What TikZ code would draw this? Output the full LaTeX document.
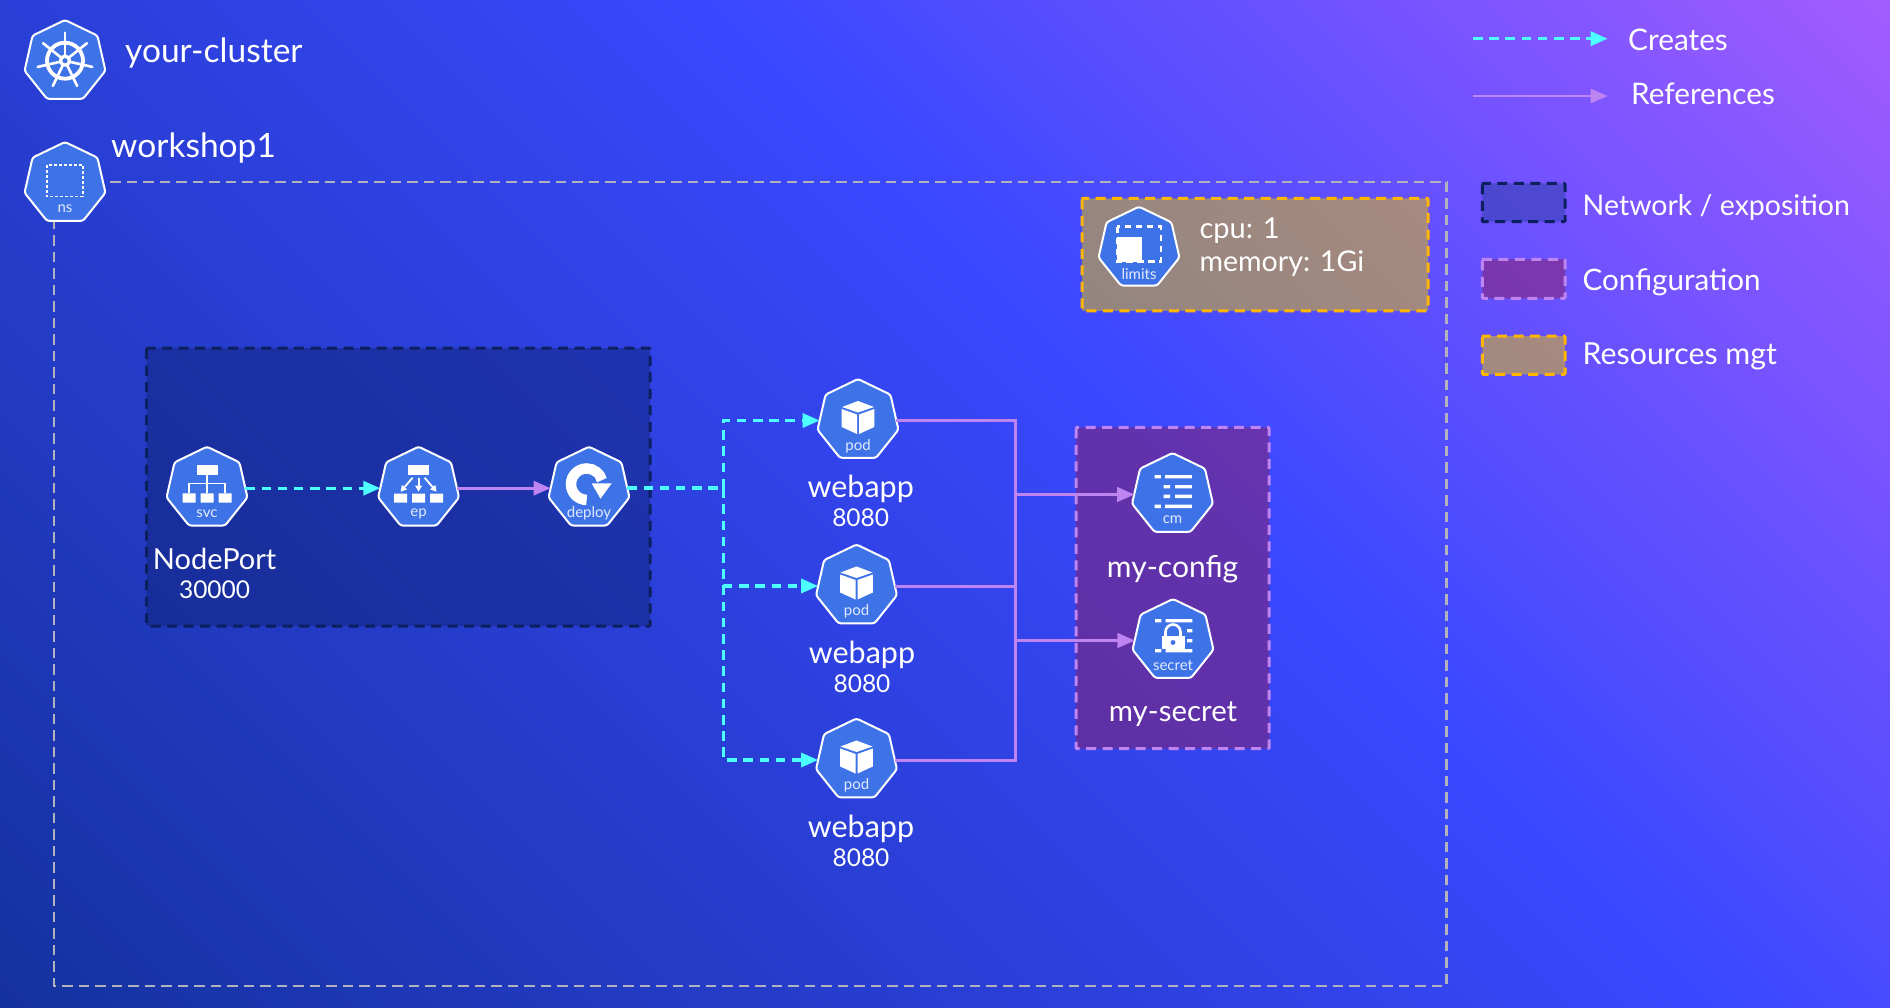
\documentclass[tikz,border=0pt]{standalone}
\usepackage{fontspec}
\setmainfont{Lato}
\usetikzlibrary{arrows.meta,shapes.geometric,calc}
\definecolor{bgA}{RGB}{20,50,158}
\definecolor{bgB}{RGB}{58,72,255}
\definecolor{bgC}{RGB}{162,92,255}
\definecolor{kubeblue}{RGB}{62,115,232}
\definecolor{cyanline}{RGB}{77,255,255}
\definecolor{refline}{RGB}{190,133,242}
\definecolor{nsline}{RGB}{178,178,190}
\definecolor{netline}{RGB}{12,32,96}
\definecolor{netfill}{RGB}{16,36,120}
\definecolor{netswatch}{RGB}{45,62,165}
\definecolor{cfgfill}{RGB}{140,30,95}
\definecolor{resline}{RGB}{255,182,0}
\definecolor{resfill}{RGB}{232,195,0}
\pgfdeclarehorizontalshading{bgshade}{100bp}{color(0bp)=(bgA); color(25bp)=(bgA); color(55bp)=(bgB); color(75bp)=(bgC); color(100bp)=(bgC)}
\newcommand{\fs}[1]{\fontsize{#1}{#1}\selectfont}
\tikzset{
  kube/.style={regular polygon,regular polygon sides=7,minimum size=83pt,inner sep=0pt,outer sep=0pt,
    draw=white,line width=2pt,fill=kubeblue,rounded corners=2.5pt},
  kubelbl/.style={text=white,text opacity=.85,inner sep=0pt,font=\fs{15}},
  bigtxt/.style={text=white,inner sep=0pt,font=\fs{30}},
  midtxt/.style={text=white,inner sep=0pt,font=\fs{24.5}},
  lefttxt/.style={bigtxt,anchor=west},
  creates/.style={draw=cyanline,line width=3.2pt,dash pattern=on 9.5pt off 6.7pt,-{Triangle[length=17pt,width=14pt]}},
  refs/.style={draw=refline,line width=3pt,-{Triangle[length=17pt,width=14pt]}},
  nsborder/.style={draw=nsline,line width=2.8pt,dash pattern=on 10.5pt off 6pt},
  netbox/.style={fill=netfill,fill opacity=.5,draw=netline,draw opacity=1,line width=3pt,dash pattern=on 10pt off 6.5pt,rounded corners=1pt},
  netkey/.style={netbox,fill=netswatch},
  cfgbox/.style={fill=cfgfill,fill opacity=.5,draw=refline,draw opacity=1,line width=3pt,dash pattern=on 10pt off 6.5pt,rounded corners=1pt},
  resbox/.style={fill=resfill,fill opacity=.5,draw=resline,draw opacity=1,line width=3pt,dash pattern=on 10pt off 6.5pt,rounded corners=1pt},
  wheelicon/.pic={
    \draw[white,line width=3.8pt] (0,40.7) circle[radius=18pt];
    \foreach \a in {90,141.43,192.86,244.29,295.71,347.14,398.57}{
      \draw[white,line width=2.6pt,line cap=round] (0,40.7) -- ++(\a:28pt);}
    \fill[white] (0,40.7) circle[radius=6pt];
    \fill[kubeblue] (0,40.7) circle[radius=2.6pt];
  },
  nsicon/.pic={\draw[white,line width=1.6pt,dash pattern=on 3pt off 2pt] (-18,23) rectangle (17.7,54.7);},
  limitsicon/.pic={
    \draw[white,line width=2.4pt,dash pattern=on 6.5pt off 4.5pt] (-21.7,20) rectangle (21.7,55);
    \fill[white] (-22.3,30) rectangle (3.3,55.6);
  },
  svcicon/.pic={
    \fill[white] (-10.5,18.7) rectangle (10.5,28);
    \draw[white,line width=1.6pt] (0,28) -- (0,46.7) (-18,46.7) -- (-18,36.7) -- (18,36.7) -- (18,46.7);
    \fill[white] (-24.5,46.7) rectangle (-11.5,56) (-6.5,46.7) rectangle (6.5,56) (11.5,46.7) rectangle (24.5,56);
  },
  epicon/.pic={
    \fill[white] (-10.5,18.7) rectangle (10.5,28);
    \fill[white] (-24.5,47) rectangle (-11.5,56) (-6.5,47) rectangle (6.5,56) (11.5,47) rectangle (24.5,56);
    \draw[white,line width=1.8pt,-{Triangle[length=6pt,width=6.5pt]}] (0,31) -- (0,45);
    \draw[white,line width=1.8pt,-{Triangle[length=6pt,width=6.5pt]}] (-6,31) -- (-18,45);
    \draw[white,line width=1.8pt,-{Triangle[length=6pt,width=6.5pt]}] (6,31) -- (18,45);
  },
  deployicon/.pic={
    \draw[white,line width=10.5pt] (-2.3,53.2) arc[start angle=270,end angle=15,radius=15.7pt];
    \fill[kubeblue] (0,30) rectangle (6,37);
    \draw[kubeblue,line width=2pt] (0.7,35.7) -- (11.5,53) -- (24.6,35.7);
    \fill[white] (2.7,36.7) -- (22.6,36.7) -- (11.5,52) -- cycle;
  },
  podicon/.pic={
    \fill[white] (0,22) -- (16,28) -- (0,33.5) -- (-16,28) -- cycle;
    \fill[white] (-16.3,30) -- (-1,35.5) -- (-1,55) -- (-16.3,48) -- cycle;
    \fill[white] (16.3,30) -- (1,35.5) -- (1,55) -- (16.3,48) -- cycle;
  },
  cmicon/.pic={
    \fill[white] (-18,22.1) rectangle (-11.7,25.4) (-7.3,22.1) rectangle (19.3,25.4);
    \fill[white] (-9,32.1) rectangle (-2.3,35.4) (2.7,32.1) rectangle (19.3,35.4);
    \fill[white] (-9,41.7) rectangle (-2.3,45) (2.7,41.7) rectangle (19.3,45);
    \fill[white] (-18,51.7) rectangle (-11.7,55) (-7.3,51.7) rectangle (19.3,55);
  },
  secreticon/.pic={
    \fill[white] (-18,20) rectangle (-11.7,23.3) (-7.3,20) rectangle (19.3,23.3);
    \fill[white] (13.7,30) rectangle (19.3,33.3) (13.7,40) rectangle (19.3,43.3);
    \fill[white] (-18,50) rectangle (-11.7,53.3) (-7.3,50) rectangle (19.3,53.3);
    \fill[kubeblue] (-13.5,24.5) rectangle (13.5,48);
    \draw[white,line width=2.6pt] (-7.5,37.5) -- (-7.5,33) arc[start angle=180,end angle=0,radius=7.5pt] -- (7.5,37.5);
    \fill[white] (-11.3,37.3) rectangle (11.7,50);
    \fill[kubeblue] (0,43.5) circle[radius=2.4pt];
  },
}
% name, cx, top, label, icon
\newcommand{\kubenode}[5]{%
  \node[kube] (#1) at (#2,#3+41.5) {};
  \pic at (#2,#3) {#5};
  \node[kubelbl] (#1lbl) at (#2,#3+67) {#4};
}
\begin{document}
\begin{tikzpicture}[x=1pt,y=-1pt]
\useasboundingbox (0,0) rectangle (1890,1008);
\begin{scope}
  \clip (0,0) rectangle (1890,1008);
  \begin{scope}[transform canvas={rotate around={45:(945,504)}}]
    \shade[shading=bgshade,shading angle=0] (-79.5,-996) rectangle (1969.5,2004);
  \end{scope}
\end{scope}

% regions
\draw[netbox] (146.5,348) rectangle (650,626);
\draw[cfgbox] (1076,427.3) rectangle (1269,748.7);
\draw[resbox] (1082,198.3) rectangle (1428,311);

% namespace border
\coordinate (nsa) at (110,182);
\coordinate (nsb) at (1446.7,182);
\coordinate (nsc) at (1446.7,986);
\coordinate (nsd) at (54,986);
\coordinate (nse) at (54,222);
\draw[nsborder] (nsa) -- (nsb) -- (nsc) -- (nsd) -- (nse);

% kube nodes
\kubenode{cluster}{65}{20}{}{wheelicon}
\kubenode{ns}{65}{142}{ns}{nsicon}
\kubenode{limits}{1139}{206.7}{limits}{limitsicon}
\kubenode{svc}{207}{446.7}{svc}{svcicon}
\kubenode{ep}{418.6}{446.7}{ep}{epicon}
\kubenode{deploy}{589}{446.7}{deploy}{deployicon}
\kubenode{pod1}{858}{379}{pod}{podicon}
\kubenode{pod2}{856.5}{544.5}{pod}{podicon}
\kubenode{pod3}{856.5}{718.5}{pod}{podicon}
\kubenode{cm}{1172.5}{453}{cm}{cmicon}
\kubenode{secret}{1173}{599}{secret}{secreticon}

% connectors
\coordinate (fork) at (723.5,488.2);
\coordinate (bus) at (1015,488);
\draw[creates] (svc) -- (ep);
\draw[refs] (ep) -- (deploy);
\draw[creates,-,line width=4pt] (deploy) -- (fork);
\draw[creates] (fork) |- (pod1);
\draw[creates] (fork) |- (pod2);
\draw[creates] (fork) |- (pod3);
\draw[refs] (pod1) -- (pod1 -| bus) |- (cm);
\draw[refs] (pod2) -- (pod2 -| bus) |- (cm);
\draw[refs] (pod2) -- (pod2 -| bus) |- (secret);
\draw[refs] (pod3) -- (pod3 -| bus) |- (secret);

% texts
\node[lefttxt,font=\fs{33.5}] (t1) at (125,53) {your-cluster};
\node[lefttxt,font=\fs{33.5}] (t2) at (111,148) {workshop1};
\node[lefttxt,font=\fs{29}] (t3) at (1199.3,231) {cpu: 1};
\node[lefttxt,font=\fs{28.6}] (t4) at (1199.3,264) {memory: 1Gi};
\node[bigtxt,font=\fs{29}] (t5) at (214.6,559) {NodePort};
\node[midtxt] (t6) at (214.6,590) {30000};
\node[bigtxt,font=\fs{30.5}] (w1) at (860.7,488.5) {webapp};
\node[midtxt] (p1) at (860.7,518) {8080};
\node[bigtxt,font=\fs{30.5}] (w2) at (862,654.5) {webapp};
\node[midtxt] (p2) at (862,684) {8080};
\node[bigtxt,font=\fs{30.5}] (w3) at (861,828.5) {webapp};
\node[midtxt] (p3) at (861,858) {8080};
\node[bigtxt,font=\fs{30}] (mc) at (1172.6,569) {my-config};
\node[bigtxt,font=\fs{29.4}] (ms) at (1173,714) {my-secret};

% legend
\coordinate (la) at (1473,38.7);
\coordinate (lb) at (1607.7,38.7);
\coordinate (lc) at (1473,96);
\coordinate (ld) at (1607.7,96);
\draw[creates] (la) -- (lb);
\draw[refs,line width=2.5pt] (lc) -- (ld);
\node[lefttxt,font=\fs{29.8}] (lt1) at (1628,39.5) {Creates};
\node[lefttxt,font=\fs{29.7}] (lt2) at (1631,94) {References};
\draw[netkey] (1482.3,183.3) rectangle (1565,221.7);
\draw[cfgbox] (1482.3,259.3) rectangle (1565,298.3);
\draw[resbox] (1482.3,336) rectangle (1565,374.3);
\node[lefttxt,font=\fs{28.5}] (lt3) at (1582.5,207.5) {Network / exposition};
\node[lefttxt,font=\fs{29.6}] (lt4) at (1582.5,282.5) {Configuration};
\node[lefttxt,font=\fs{30.3}] (lt5) at (1582.5,356.5) {Resources mgt};
\end{tikzpicture}
\end{document}
